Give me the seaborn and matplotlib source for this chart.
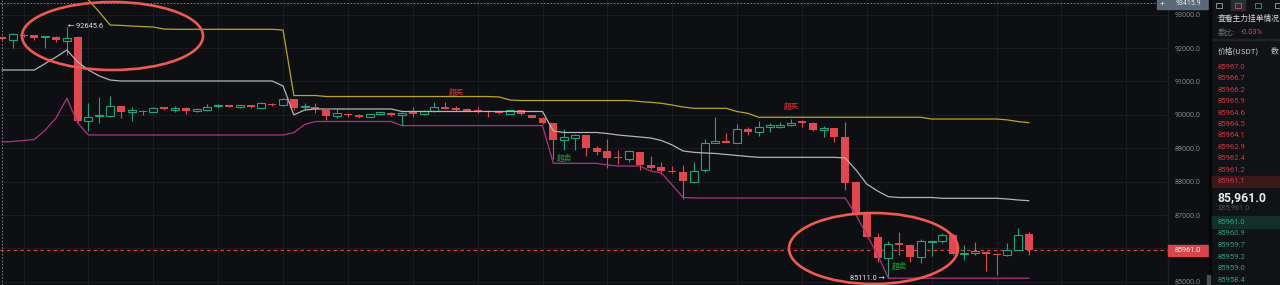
import matplotlib
matplotlib.use("Agg")
import matplotlib.pyplot as plt
from matplotlib.patches import Rectangle, Ellipse
import numpy as np
import seaborn as sns

# ---------------- data ----------------
opens = [92330, 92240, 92390, 92394, 92330, 92345, 92212, 92340, 89820, 89955,
         89970, 90270, 90090, 90120, 90090, 90240, 90150, 90220, 90130, 90150,
         90260, 90280, 90250, 90270, 90220, 90340, 90300, 90475, 90230, 90240,
         90140, 89970, 90000, 90000, 89950, 90030, 90070, 90000, 90090, 90020,
         90120, 90240, 90190, 90180, 90150, 90120, 90100, 90040, 90150, 90000,
         89920, 89750, 89240, 89310, 89390, 89010, 88910, 88720, 88680, 88890,
         88510, 88430, 88330, 88300, 88000, 88350, 89170, 89220, 89170, 89570,
         89500, 89650, 89650, 89700, 89780, 89770, 89560, 89600, 89350, 87980,
         87050, 86330, 85710, 86150, 86090, 85740, 86190, 86210, 86400, 85830,
         85870, 85900, 85840, 85805, 85955, 86430]
highs = [92350, 92445, 92420, 92400, 92350, 92360, 92645.6, 92350, 90360, 90525,
         90555, 90280, 90240, 90150, 90240, 90250, 90270, 90230, 90200, 90330,
         90330, 90300, 90310, 90290, 90400, 90360, 90500, 90490, 90370, 90370,
         90160, 90180, 90060, 90020, 90040, 90100, 90090, 90090, 90240, 90140,
         90400, 90390, 90270, 90200, 90250, 90140, 90110, 90160, 90160, 90010,
         89930, 89760, 89570, 89420, 89400, 89060, 89280, 88960, 88960, 88900,
         88760, 88580, 88470, 88510, 88600, 89270, 89946, 89450, 89728, 89647,
         89826, 89750, 89797, 89868, 89850, 89790, 89668, 89620, 89797, 88000,
         87100, 86455, 86234, 86503, 86130, 86275, 86230, 86455, 86473, 86105,
         86204, 85920, 85850, 86156, 86605, 86503]
lows = [92240, 92010, 92340, 92240, 92000, 92190, 91800, 89780, 89515, 89770,
        89930, 89920, 89820, 89990, 90080, 90150, 90100, 90040, 90100, 90130,
        90220, 90230, 90220, 90220, 90200, 90270, 90280, 90150, 90150, 90070,
        89850, 89920, 89950, 89910, 89930, 90010, 89970, 89670, 89940, 90000,
        90100, 90180, 90120, 90110, 90050, 89950, 90030, 90020, 90000, 89900,
        89740, 88670, 88960, 88960, 88760, 88800, 88400, 88520, 88590, 88350,
        88380, 88220, 88260, 87490, 87950, 88300, 89150, 89150, 89150, 89398,
        89368, 89497, 89600, 89668, 89650, 89527, 89330, 89198, 87751, 86990,
        86330, 85605, 85111, 85805, 85605, 85557, 85775, 86155, 85805, 85656,
        85805, 85335, 85207, 85790, 85940, 85805]
closes = [92280, 92415, 92360, 92294, 92345, 92240, 92312, 89810, 89950, 89990,
          90270, 90090, 90110, 90080, 90220, 90170, 90200, 90110, 90150, 90250,
          90280, 90250, 90265, 90240, 90355, 90290, 90475, 90220, 90250, 90170,
          89970, 90050, 89990, 89950, 90020, 90080, 89990, 90070, 90020, 90120,
          90240, 90190, 90150, 90130, 90090, 90080, 90050, 90140, 90020, 89920,
          89750, 89260, 89330, 89390, 89010, 88890, 88710, 88700, 88910, 88510,
          88420, 88320, 88290, 88020, 88330, 89170, 89220, 89170, 89570, 89500,
          89630, 89670, 89700, 89770, 89760, 89550, 89580, 89350, 87970, 87060,
          86350, 85710, 86140, 86090, 85740, 86230, 86210, 86400, 85840, 85850,
          85890, 85835, 85805, 85955, 86400, 85961]

upper_band = [94400, 94400, 94400, 94400, 94400, 94400, 94190, 93820, 93440, 93080,
              92690, 92680, 92660, 92645, 92630, 92570, 92563, 92563, 92563, 92563,
              92563, 92563, 92563, 92563, 92563, 92563, 92540, 90580, 90580, 90580,
              90550, 90550, 90550, 90550, 90550, 90550, 90550, 90550, 90550, 90550,
              90550, 90550, 90550, 90550, 90550, 90550, 90536, 90446, 90430, 90430,
              90430, 90430, 90430, 90430, 90430, 90430, 90430, 90430, 90430, 90400,
              90377, 90347, 90296, 90236, 90197, 90197, 90197, 90197, 90100, 90048,
              89928, 89928, 89928, 89928, 89928, 89928, 89928, 89928, 89928, 89928,
              89928, 89928, 89928, 89928, 89928, 89928, 89877, 89877, 89877, 89877,
              89877, 89877, 89877, 89850, 89800, 89767]
middle_band = [91344, 91344, 91344, 91344, 91539, 91733, 91943, 91584, 91344, 91165,
               91045, 91015, 91015, 91015, 91015, 91015, 91015, 91015, 91015, 91015,
               91015, 91015, 91015, 91015, 91015, 91015, 90865, 90000, 90147, 90177,
               90177, 90177, 90177, 90177, 90177, 90177, 90177, 90102, 90102, 90102,
               90102, 90102, 90102, 90102, 90102, 90102, 90102, 90102, 90102, 90102,
               90102, 89518, 89473, 89473, 89473, 89473, 89443, 89398, 89368, 89338,
               89308, 89234, 89099, 88919, 88880, 88860, 88845, 88814, 88785, 88755,
               88730, 88730, 88730, 88730, 88730, 88730, 88730, 88730, 88710, 88350,
               87930, 87720, 87550, 87527, 87527, 87527, 87527, 87503, 87503, 87503,
               87503, 87503, 87503, 87482, 87452, 87431]
lower_band = [89189, 89204, 89234, 89264, 89548, 89907, 90497, 89758, 89398, 89398,
              89398, 89398, 89398, 89398, 89398, 89398, 89398, 89398, 89398, 89398,
              89398, 89398, 89398, 89398, 89398, 89398, 89398, 89470, 89713, 89803,
              89803, 89803, 89803, 89803, 89803, 89803, 89803, 89680, 89680, 89680,
              89680, 89680, 89680, 89680, 89680, 89680, 89680, 89680, 89680, 89680,
              89680, 88550, 88550, 88550, 88550, 88550, 88500, 88470, 88470, 88470,
              88320, 88260, 87900, 87527, 87512, 87512, 87512, 87512, 87512, 87512,
              87512, 87512, 87512, 87512, 87512, 87512, 87512, 87512, 87512, 87003,
              86404, 85805, 85111, 85111, 85111, 85111, 85111, 85111, 85111, 85111,
              85111, 85111, 85111, 85111, 85111, 85111]

price_ticks = [93000, 92000, 91000, 90000, 89000, 88000, 87000, 86000, 85000]
price_tick_labels = ["93000.0", "92000.0", "91000.0", "90000.0", "89000.0",
                     "88000.0", "87000.0", "", "85000.0"]
last_price = 85961.0
crosshair_price = 93415.9
high_mark = (6, 92645.6)
low_mark = (82, 85111.0)
overbought_marks = [(42, 90686), (73, 90267)]
oversold_marks = [(52, 88710), (83, 85476)]
ask_prices = ["85967.0", "85966.7", "85966.2", "85965.9", "85964.6", "85964.5",
              "85964.1", "85962.9", "85962.4", "85961.2", "85961.1"]
bid_prices = ["85961.0", "85960.9", "85959.7", "85959.2", "85959.0", "85958.4"]

# ---------------- style ----------------
W, H = 1280, 285
BG = "#0e0f13"
RED = "#e0474f"
GREEN = "#23a37a"
YEL = "#b7a725"
GREY = "#b4b4b4"
MAG = "#ad3483"
GRID = "#1b1d22"
TXT = "#80848b"

sns.set_style("dark", rc={"axes.facecolor": BG, "figure.facecolor": BG,
                          "grid.color": GRID, "axes.edgecolor": BG})
plt.rcParams["font.family"] = ["Roboto", "DejaVu Sans", "Noto Sans CJK SC"]
CJK = ["Noto Sans CJK SC", "DejaVu Sans"]

fig = plt.figure(figsize=(W / 100, H / 100), dpi=100, facecolor=BG)

PLOT_RIGHT = 1168
X0, DX = 2.0, 10.81
ax = fig.add_axes([0, 0, PLOT_RIGHT / W, 1])
ax.set_facecolor(BG)
for s in ax.spines.values():
    s.set_visible(False)

n = len(opens)
idx = np.arange(n)

# grid
ax.set_xticks(np.arange(2, 110, 6))
ax.set_xticklabels([])
ax.set_yticks(price_ticks)
ax.set_yticklabels(price_tick_labels)
ax.yaxis.tick_right()
ax.tick_params(axis="both", length=0)
ax.tick_params(axis="y", pad=5, labelsize=5.2, labelcolor=TXT)
ax.grid(True, color=GRID, lw=0.7)

# candles
for i in range(n):
    o, h, l, c = opens[i], highs[i], lows[i], closes[i]
    up = c >= o
    col = GREEN if up else RED
    ax.vlines(i, l, h, color=col, lw=0.8, zorder=3)
    bottom = min(o, c)
    height = max(abs(c - o), 45)
    if up:
        ax.bar(i, height, bottom=bottom, width=0.74, facecolor=BG,
               edgecolor=col, linewidth=0.8, zorder=4)
    else:
        ax.bar(i, height, bottom=bottom, width=0.74, color=col,
               linewidth=0, zorder=4)

# band lines with seaborn
sns.lineplot(x=idx, y=upper_band, ax=ax, color=YEL, lw=0.9, zorder=5, legend=False)
sns.lineplot(x=idx, y=middle_band, ax=ax, color=GREY, lw=0.9, zorder=5, legend=False)
sns.lineplot(x=idx, y=lower_band, ax=ax, color=MAG, lw=0.9, zorder=5, legend=False)
ax.set_xlabel("")
ax.set_ylabel("")
ax.set_xlim(-X0 / DX, (PLOT_RIGHT - X0) / DX)
ax.set_ylim(84907, 93440)

# last price dashed line & crosshair
ax.axhline(last_price, color=RED, lw=0.8, ls=(0, (3, 3)), zorder=2)
ax.axhline(crosshair_price - 60, color="#8c8f95", lw=0.6, ls=(0, (2, 2)), zorder=2)
ax.axvline(-0.03, color="#8c8f95", lw=0.6, ls=(0, (2, 2)), zorder=2)

# annotations
ax.text(high_mark[0] + 0.15, high_mark[1], "\u2190 " + f"{high_mark[1]:.1f}",
        color="#e6e6e6", fontsize=5.3, va="center", ha="left", zorder=6)
ax.text(low_mark[0] - 0.35, low_mark[1], f"{low_mark[1]:.1f} \u2192",
        color="#e6e6e6", fontsize=5.3, va="center", ha="right", zorder=6)
for (xi, yp) in overbought_marks:
    ax.text(xi, yp, "超买", color="#c2262c", fontsize=5.5, ha="center",
            va="center", family=CJK, fontweight="bold", zorder=6)
for (xi, yp) in oversold_marks:
    ax.text(xi, yp, "超卖", color="#1f7f2c", fontsize=5.5, ha="center",
            va="center", family=CJK, fontweight="bold", zorder=6)


def fx(px):
    return px / W


def fy(py):
    return 1 - py / H


# red ellipses
for (cx, cy, ew, eh) in [(112.5, 36, 181, 68), (873.5, 248.5, 169, 71)]:
    fig.add_artist(Ellipse((fx(cx), fy(cy)), ew / W, eh / H,
                           transform=fig.transFigure, fill=False,
                           ec="#ec5a50", lw=1.9, zorder=10))

# price-axis tags
fig.add_artist(Rectangle((fx(1168), fy(256)), 40 / W, 11 / H, transform=fig.transFigure,
                         color="#d9434b", zorder=8))
fig.text(fx(1188), fy(250.5), f"{last_price:.1f}", color="white", fontsize=5.2,
         ha="center", va="center", zorder=9)
fig.add_artist(Rectangle((fx(1168), fy(8.5)), 40 / W, 8.5 / H, transform=fig.transFigure,
                         color="#5d6877", zorder=8))
fig.add_artist(Rectangle((fx(1156.5), fy(8.5)), 11 / W, 8.5 / H, transform=fig.transFigure,
                         color="#5d6877", zorder=8))
fig.text(fx(1188), fy(3.5), f"{crosshair_price:.1f}", color="#e4e6ea", fontsize=5.0,
         ha="center", va="center", zorder=9)
fig.text(fx(1162), fy(3.8), "+", color="#e4e6ea", fontsize=6, ha="center",
         va="center", zorder=9)
fig.add_artist(Rectangle((fx(1167.5), 0), 0.6 / W, 1, transform=fig.transFigure,
                         color="#1d1f24", zorder=7))

# right order-book panel
fig.add_artist(Rectangle((fx(1210), 0), 70 / W, 1, transform=fig.transFigure,
                         color="#111216", zorder=7))
fig.add_artist(Rectangle((fx(1208.5), 0), 2 / W, 1, transform=fig.transFigure,
                         color="#050608", zorder=8))
fig.add_artist(Rectangle((fx(1206.5), fy(285)), 3.5 / W, 10 / H, transform=fig.transFigure,
                         color="#4a4d52", zorder=9))
# small toolbar icons
fig.add_artist(Rectangle((fx(1231), fy(10)), 14 / W, 10 / H, transform=fig.transFigure,
                         color="#2a2d33", zorder=8))
for (ix, c1) in [(1216, "#9a9ea5"), (1234.5, RED), (1255, GREEN), (1275, "#9a9ea5")]:
    fig.add_artist(Rectangle((fx(ix), fy(8)), 6 / W, 5 / H, transform=fig.transFigure,
                             fill=False, ec=c1, lw=0.6, zorder=9))

fig.text(fx(1218), fy(19), "查看主力挂单情况", color="#d6d6d6", fontsize=5.6,
         family=CJK, va="center", ha="left", zorder=9)
fig.text(fx(1218), fy(33), "委比:", color="#6d7077", fontsize=5.4,
         family=CJK, va="center", ha="left", zorder=9)
fig.text(fx(1241), fy(33), "-0.03%", color="#e0474f", fontsize=5.4,
         va="center", ha="left", zorder=9)
fig.add_artist(Rectangle((fx(1212), fy(40)), 68 / W, 0.6 / H, transform=fig.transFigure,
                         color="#202227", zorder=9))
fig.text(fx(1218), fy(51), "价格(USDT)", color="#c9cbd0", fontsize=5.6,
         family=CJK, va="center", ha="left", zorder=9)
fig.text(fx(1271), fy(51), "数", color="#c9cbd0", fontsize=5.6,
         family=CJK, va="center", ha="left", zorder=9)

ASK_Y0, ROW = 66.8, 11.45
for k, p in enumerate(ask_prices):
    yy = ASK_Y0 + k * ROW
    if k == len(ask_prices) - 1:
        fig.add_artist(Rectangle((fx(1212), fy(yy + 5.8)), 68 / W, 11.5 / H,
                                 transform=fig.transFigure, color="#3a191d", zorder=8))
    fig.text(fx(1218), fy(yy), p, color="#c8393f", fontsize=5.5, va="center",
             ha="left", zorder=9)

fig.text(fx(1218), fy(197.5), f"{last_price:,.1f}", color="#e8e9ec", fontsize=8.8,
         fontweight="bold", va="center", ha="left", zorder=9)
fig.text(fx(1218), fy(209), f"${last_price:,.1f}", color="#4c5057", fontsize=5.3,
         va="center", ha="left", zorder=9)

BID_Y0 = 221.7
for k, p in enumerate(bid_prices):
    yy = BID_Y0 + k * ROW * 1.015
    if k == 0:
        fig.add_artist(Rectangle((fx(1212), fy(yy + 5.8)), 68 / W, 11.5 / H,
                                 transform=fig.transFigure, color="#12302a", zorder=8))
    fig.text(fx(1218), fy(yy), p, color="#23a37a", fontsize=5.5, va="center",
             ha="left", zorder=9)

fig.savefig("out.png", dpi=100, facecolor=BG)
